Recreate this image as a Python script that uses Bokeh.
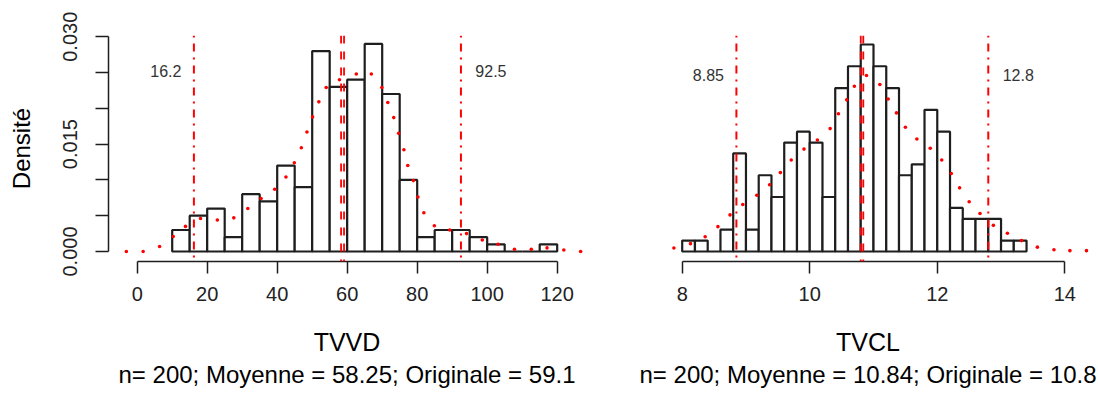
from bokeh.plotting import figure
from bokeh.layouts import row
from bokeh.models import Range1d, FixedTicker, PrintfTickFormatter, Span, Title
from bokeh.core.properties import value
from bokeh.embed import file_html
from bokeh.resources import INLINE

# ---------------- data ----------------
tvvd_breaks = [10, 15, 20, 25, 30, 35, 40, 45, 50, 55, 60, 65, 70, 75, 80,
               85, 90, 95, 100, 105, 110, 115, 120]
tvvd_density = [0.003, 0.005, 0.006, 0.002, 0.008, 0.007, 0.012, 0.009, 0.028,
                0.023, 0.024, 0.029, 0.022, 0.010, 0.002, 0.003, 0.003, 0.002,
                0.001, 0.000, 0.000, 0.001]
tvvd_curve_x = [-3.1, 1.7, 6.4, 10.3, 13.8, 18.1, 22.9, 27.6, 31.6, 35.4, 39.3,
                42.5, 44.9, 46.9, 48.5, 50.1, 51.9, 54.0, 57.8, 62.6, 66.9, 69.9,
                71.6, 73.3, 74.7, 76.2, 77.3, 78.9, 80.2, 81.9, 84.9, 89.3, 94.1,
                98.6, 103.1, 107.8, 112.6, 117.1, 121.9, 126.7]
tvvd_curve_y = [0.0000, 0.0000, 0.0007, 0.0021, 0.0035, 0.0046, 0.0044, 0.0047,
                0.0060, 0.0074, 0.0087, 0.0104, 0.0124, 0.0145, 0.0167, 0.0188,
                0.0209, 0.0229, 0.0240, 0.0248, 0.0248, 0.0229, 0.0208, 0.0187,
                0.0165, 0.0142, 0.0120, 0.0099, 0.0076, 0.0054, 0.0036, 0.0030,
                0.0025, 0.0016, 0.0010, 0.0003, 0.0003, 0.0005, 0.0002, 0.0000]
tvvd_bounds_ci = [16.2, 92.5]
tvvd_ci_labels = ["16.2", "92.5"]
tvvd_mean = 58.25
tvvd_orig = 59.1
tvvd_xticks = [0, 20, 40, 60, 80, 100, 120]
tvvd_yticks = [0.0, 0.015, 0.030]
tvvd_yminor = [0.005, 0.010, 0.020, 0.025]
tvvd_xlab = "TVVD"
tvvd_sub = "n= 200; Moyenne = 58.25; Originale = 59.1"

tvcl_breaks = [8.0, 8.2, 8.4, 8.6, 8.8, 9.0, 9.2, 9.4, 9.6, 9.8, 10.0, 10.2, 10.4,
               10.6, 10.8, 11.0, 11.2, 11.4, 11.6, 11.8, 12.0, 12.2, 12.4, 12.6,
               12.8, 13.0, 13.2, 13.4]
tvcl_density = [0.025, 0.025, 0.000, 0.050, 0.225, 0.050, 0.175, 0.125, 0.250,
                0.275, 0.250, 0.125, 0.375, 0.425, 0.475, 0.425, 0.375, 0.175,
                0.200, 0.325, 0.275, 0.100, 0.075, 0.075, 0.075, 0.025, 0.025]
tvcl_curve_x = [7.87, 8.13, 8.36, 8.56, 8.75, 8.95, 9.17, 9.37, 9.54, 9.71, 9.91,
                10.12, 10.32, 10.45, 10.58, 10.70, 10.89, 11.10, 11.23, 11.36,
                11.50, 11.68, 11.89, 12.07, 12.22, 12.35, 12.50, 12.67, 12.88,
                13.10, 13.32, 13.57, 13.83, 14.08, 14.34]
tvcl_curve_y = [0.008, 0.018, 0.034, 0.057, 0.084, 0.108, 0.129, 0.153, 0.181,
                0.210, 0.235, 0.256, 0.282, 0.316, 0.348, 0.379, 0.404, 0.383,
                0.350, 0.318, 0.285, 0.258, 0.237, 0.210, 0.179, 0.146, 0.114,
                0.087, 0.060, 0.042, 0.025, 0.010, 0.004, 0.002, 0.002]
tvcl_bounds_ci = [8.85, 12.8]
tvcl_ci_labels = ["8.85", "12.8"]
tvcl_mean = 10.84
tvcl_orig = 10.8
tvcl_xticks = [8, 10, 12, 14]
tvcl_xlab = "TVCL"
tvcl_sub = "n= 200; Moyenne = 10.84; Originale = 10.8"

# ---------------- styling ----------------
FONT = "Liberation Sans"
INK = "#1e1e1e"
RED = "#ff0000"
H = 395
FRAME_TOP = 35
FRAME_H = 226


def base_fig(width, xr, yr, left, right, yaxis=True):
    p = figure(width=width, height=H, x_range=xr, y_range=yr,
               output_backend="svg", toolbar_location=None,
               min_border_left=left, min_border_right=right,
               min_border_top=FRAME_TOP, min_border_bottom=H - FRAME_TOP - FRAME_H,
               y_axis_location="left" if yaxis else None)
    p.outline_line_color = None
    p.xgrid.visible = False
    p.ygrid.visible = False
    p.background_fill_color = "white"
    p.border_fill_color = "white"
    return p


def style_axis(ax, tick_out):
    ax.axis_line_color = INK
    ax.axis_line_width = 1.5
    ax.major_tick_line_color = INK
    ax.major_tick_line_width = 1.5
    ax.major_tick_out = tick_out
    ax.major_tick_in = 0
    ax.minor_tick_line_color = INK
    ax.minor_tick_line_width = 1.5
    ax.minor_tick_out = tick_out
    ax.minor_tick_in = 0
    ax.major_label_text_font = FONT
    ax.major_label_text_font_size = "20px"
    ax.major_label_text_color = "#222222"


def panel(width, xr, yr, left, right, breaks, dens, cx, cy, ci, ci_labels,
          mean, orig, xticks, xlab, sub, ci_label_py, yaxis):
    p = base_fig(width, xr, yr, left, right, yaxis)
    y0, y1 = yr.start, yr.end

    def px2y(py):
        return y1 - (py - FRAME_TOP) * (y1 - y0) / FRAME_H

    p.quad(left=breaks[:-1], right=breaks[1:], bottom=0, top=dens,
           fill_color="white", line_color=INK, line_width=2.2)
    p.scatter(cx, cy, marker="circle", size=3.6, fill_color=RED,
              line_color=None)
    for q in ci:
        p.add_layout(Span(location=q, dimension="height", line_color=RED,
                          line_width=2, line_dash="2 6 8 6"))
    for q in (mean, orig):
        p.add_layout(Span(location=q, dimension="height", line_color=RED,
                          line_width=1.8, line_dash="8 8"))
    ly = px2y(ci_label_py)
    p.text(x=ci, y=[ly, ly], text=ci_labels, x_offset=[-28, 30],
           text_align="center", text_baseline="middle",
           text_font=value(FONT), text_font_size="16px", text_color="#333333")

    ax = p.xaxis[0]
    style_axis(ax, 12)
    ax.ticker = FixedTicker(ticks=xticks)
    ax.bounds = (xticks[0], xticks[-1])
    ax.major_label_standoff = 13
    ax.axis_label = xlab
    ax.axis_label_text_font = FONT
    ax.axis_label_text_font_size = "25px"
    ax.axis_label_text_font_style = "normal"
    ax.axis_label_text_color = "black"
    ax.axis_label_standoff = 24

    p.add_layout(Title(text=sub, align="center", vertical_align="top",
                       text_font=FONT, text_font_size="24px",
                       text_font_style="normal", text_color="black",
                       standoff=4), "below")
    return p


# left panel: frame 108..585 px; right panel: frame 645..1090 px (absolute)
p1 = panel(600, Range1d(-8.2, 128.09), Range1d(-0.0014, 0.03017), 108, 15,
           tvvd_breaks, tvvd_density, tvvd_curve_x, tvvd_curve_y,
           tvvd_bounds_ci, tvvd_ci_labels, tvvd_mean, tvvd_orig, tvvd_xticks,
           tvvd_xlab, tvvd_sub, 70, True)
ya = p1.yaxis[0]
style_axis(ya, 13)
ya.ticker = FixedTicker(ticks=tvvd_yticks, minor_ticks=tvvd_yminor)
ya.bounds = (tvvd_yticks[0], tvvd_yticks[-1])
ya.formatter = PrintfTickFormatter(format="%.3f")
ya.major_label_orientation = "vertical"
ya.major_label_standoff = 18
ya.axis_label = "Densité"
ya.axis_label_text_font = FONT
ya.axis_label_text_font_size = "24px"
ya.axis_label_text_font_style = "normal"
ya.axis_label_text_color = "black"
ya.axis_label_standoff = 26

p2 = panel(498, Range1d(7.4245, 14.403), Range1d(-0.02295, 0.4956), 45, 8,
           tvcl_breaks, tvcl_density, tvcl_curve_x, tvcl_curve_y,
           tvcl_bounds_ci, tvcl_ci_labels, tvcl_mean, tvcl_orig, tvcl_xticks,
           tvcl_xlab, tvcl_sub, 74, False)

layout = row(p1, p2)
open("out.html", "w").write(file_html(layout, INLINE))
